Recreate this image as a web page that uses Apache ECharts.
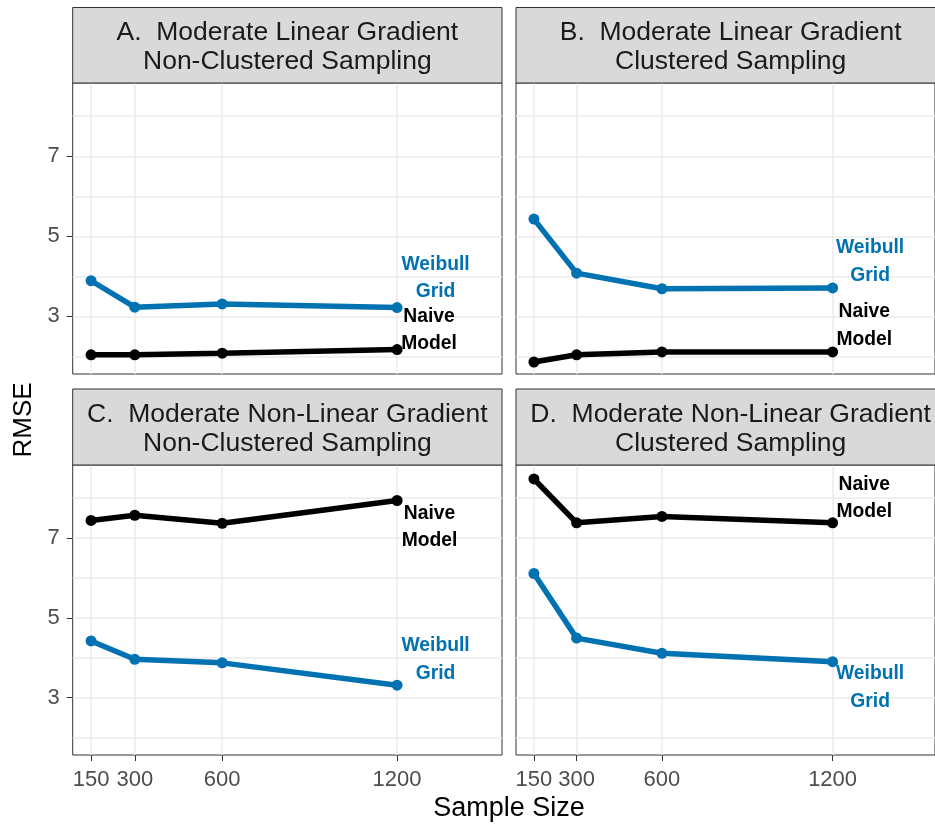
<!DOCTYPE html>
<html>
<head>
<meta charset="utf-8">
<script src="https://cdn.jsdelivr.net/npm/echarts@6/dist/echarts.min.js"></script>
<style>
    html, body { margin: 0; padding: 0; background: #fff; }
    #main { width: 935px; height: 827px; }
</style>
</head>
<body>
<div id="main"></div>
<script>
// data
var sampleSizes = [150, 300, 600, 1200];
var xTicks = [150, 300, 600, 1200];
var yTicks = [3, 5, 7];
var yGrid = [2, 3, 4, 5, 6, 7, 8];

var weibullA = [3.89, 3.23, 3.31, 3.22];
var naiveA = [2.04, 2.04, 2.08, 2.17];
var weibullB = [5.43, 4.08, 3.69, 3.71];
var naiveB = [1.86, 2.04, 2.11, 2.11];
var weibullC = [4.42, 3.96, 3.87, 3.31];
var naiveC = [7.44, 7.57, 7.37, 7.94];
var weibullD = [6.11, 4.49, 4.11, 3.90];
var naiveD = [8.48, 7.38, 7.54, 7.38];

var panelTitles = [
    "A.  Moderate Linear Gradient\nNon-Clustered Sampling",
    "B.  Moderate Linear Gradient\nClustered Sampling",
    "C.  Moderate Non-Linear Gradient\nNon-Clustered Sampling",
    "D.  Moderate Non-Linear Gradient\nClustered Sampling"
];

var FONT = "Liberation Sans";
var BLUE = "#0072B2";
var X_MIN = 87, X_MAX = 1560;
var Y_MIN = 1.56, Y_MAX = 8.83;

// panel layout
var panels = [
    {left: 72.7, top: 83, height: 291, stripTop: 7.5, yLabels: true, xLabels: false},
    {left: 516, top: 83, height: 291, stripTop: 7.5, yLabels: false, xLabels: false},
    {left: 72.7, top: 465, height: 290, stripTop: 389, yLabels: true, xLabels: true},
    {left: 516, top: 465, height: 290, stripTop: 389, yLabels: false, xLabels: true}
];
var PANEL_W = 429.3;

// label offsets (px) from the last point
var labelOffsets = [
    {weibull: [38.5, -29.5], naive: [32, -19.5]},
    {weibull: [37.5, -26], naive: [31.7, -26.3]},
    {weibull: [38.5, -25.7], naive: [32.5, 26.5]},
    {weibull: [37.5, 26.3], naive: [31.7, -24.7]}
];

var weibullSets = [weibullA, weibullB, weibullC, weibullD];
var naiveSets = [naiveA, naiveB, naiveC, naiveD];

function buildData(values, text, color, offset) {
    var data = [];
    for (var i = 0; i < sampleSizes.length; i++) {
        data.push([sampleSizes[i], values[i]]);
    }
    var last = data.length - 1;
    data[last] = {
        value: data[last],
        label: {
            show: true,
            position: "inside",
            offset: offset,
            formatter: text,
            color: color,
            fontFamily: FONT,
            fontWeight: "bold",
            fontSize: 19.3,
            lineHeight: 27.6,
            align: "center",
            verticalAlign: "middle"
        }
    };
    return data;
}

var grids = [], xAxes = [], yAxes = [], series = [], graphics = [];

for (var p = 0; p < panels.length; p++) {
    var pn = panels[p];
    grids.push({
        left: pn.left, top: pn.top, width: PANEL_W, height: pn.height,
        show: true, borderColor: "#333333", borderWidth: 1, backgroundColor: "#fff", z: 0
    });
    xAxes.push({
        gridIndex: p, type: "value", min: X_MIN, max: X_MAX, position: "bottom",
        axisLine: {show: false},
        axisTick: {show: pn.xLabels, customValues: xTicks, length: 6, lineStyle: {color: "#333333", width: 1}},
        axisLabel: {
            show: pn.xLabels, customValues: xTicks, fontFamily: FONT, fontSize: 22, color: "#4d4d4d", margin: 14,
            formatter: function(v) { return String(v); }
        },
        splitLine: {show: true, lineStyle: {color: "#ebebeb", width: 1.5}}
    });
    // grid lines
    yAxes.push({
        gridIndex: p, type: "value", min: Y_MIN, max: Y_MAX, position: "left",
        minInterval: 1, maxInterval: 1, splitNumber: 7,
        axisLine: {show: false},
        axisTick: {show: false, customValues: yGrid},
        axisLabel: {show: false},
        splitLine: {show: true, lineStyle: {color: "#ebebeb", width: 1.5}}
    });
    // ticks and labels
    yAxes.push({
        gridIndex: p, type: "value", min: Y_MIN, max: Y_MAX, position: "left", offset: 0,
        axisLine: {show: false},
        axisTick: {show: pn.yLabels, customValues: yTicks, length: 6, lineStyle: {color: "#333333", width: 1}},
        axisLabel: {show: pn.yLabels, customValues: yTicks, fontFamily: FONT, fontSize: 22, color: "#4d4d4d", margin: 13},
        splitLine: {show: false}
    });

    series.push({
        name: "Weibull Grid", type: "line", xAxisIndex: p, yAxisIndex: p * 2,
        data: buildData(weibullSets[p], "Weibull\nGrid", BLUE, labelOffsets[p].weibull),
        symbol: "circle", symbolSize: 11, showSymbol: true,
        lineStyle: {color: BLUE, width: 5.5},
        itemStyle: {color: BLUE},
        label: {show: false},
        silent: true, z: 3
    });
    series.push({
        name: "Naive Model", type: "line", xAxisIndex: p, yAxisIndex: p * 2,
        data: buildData(naiveSets[p], "Naive\nModel", "#000000", labelOffsets[p].naive),
        symbol: "circle", symbolSize: 11, showSymbol: true,
        lineStyle: {color: "#000000", width: 5.5},
        itemStyle: {color: "#000000"},
        label: {show: false},
        silent: true, z: 3
    });

    // facet strip
    var stripH = pn.top - pn.stripTop;
    graphics.push({
        type: "rect",
        shape: {x: pn.left, y: pn.stripTop, width: PANEL_W, height: stripH},
        style: {fill: "#d9d9d9", stroke: "#333333", lineWidth: 1},
        z: 10
    });
    graphics.push({
        type: "text",
        x: pn.left + PANEL_W / 2,
        y: pn.stripTop + stripH / 2 + 2,
        style: {
            text: panelTitles[p], fill: "#1a1a1a", font: "26.5px '" + FONT + "'",
            textAlign: "center", textVerticalAlign: "middle", lineHeight: 28.5
        },
        z: 11
    });
}

// axis titles
graphics.push({
    type: "text", x: 509, y: 809,
    style: {text: "Sample Size", fill: "#000", font: "27px '" + FONT + "'", textAlign: "center", textVerticalAlign: "middle"},
    z: 11
});
graphics.push({
    type: "text", x: 24, y: 420, rotation: Math.PI / 2,
    style: {text: "RMSE", fill: "#000", font: "26px '" + FONT + "'", textAlign: "center", textVerticalAlign: "middle"},
    z: 11
});

var myChart = echarts.init(document.getElementById("main"), null, {renderer: "canvas"});
myChart.setOption({
    animation: false,
    backgroundColor: "#ffffff",
    grid: grids,
    xAxis: xAxes,
    yAxis: yAxes,
    series: series,
    graphic: graphics
});
</script>
</body>
</html>
